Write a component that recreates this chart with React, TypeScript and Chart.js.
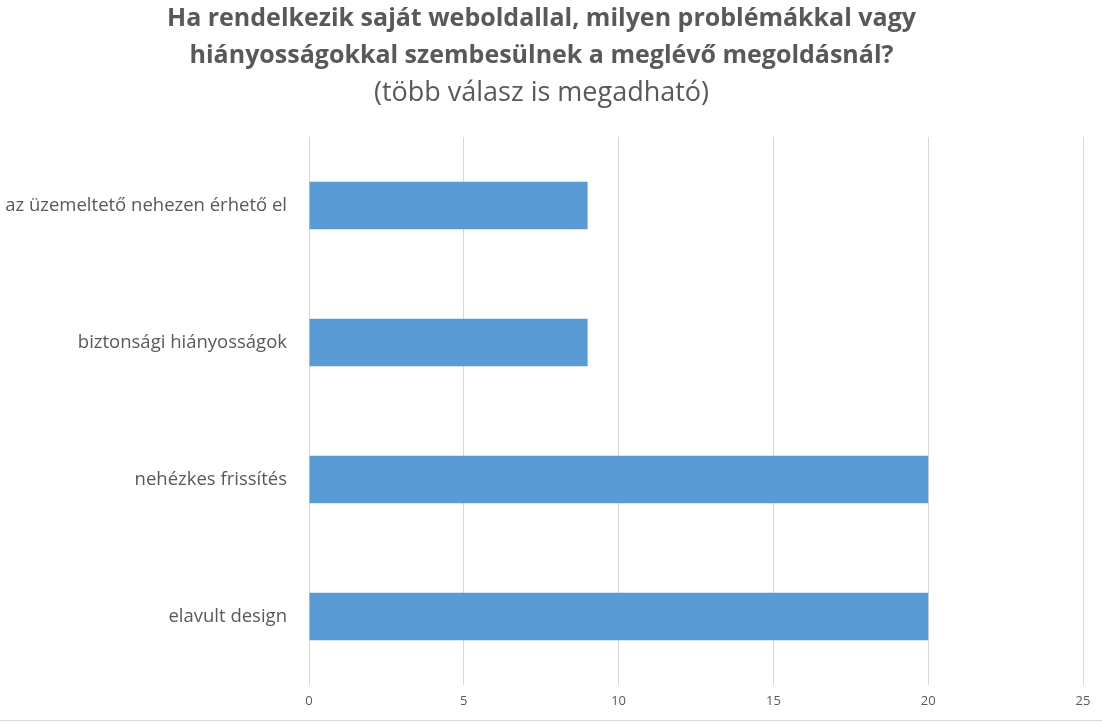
import { useEffect, useRef } from 'react';
import Chart from 'chart.js/auto';

const titleLines = [
  'Ha rendelkezik saját weboldallal, milyen problémákkal vagy',
  'hiányosságokkal szembesülnek a meglévő megoldásnál?',
];
const subtitleText = '(több válasz is megadható)';

const categories = [
  'az üzemeltető nehezen érhető el',
  'biztonsági hiányosságok',
  'nehézkes frissítés',
  'elavult design',
];
const answers = [9, 9, 20, 20];

const textColor = '#595959';
const gridColor = '#d9d9d9';

const App = () => {
  const canvasRef = useRef<HTMLCanvasElement>(null);
  const chartRef = useRef<Chart | null>(null);

  useEffect(() => {
    const ctx = canvasRef.current?.getContext('2d');
    if (!ctx) return;

    chartRef.current?.destroy();
    chartRef.current = new Chart(ctx, {
      type: 'bar',
      data: {
        labels: categories,
        datasets: [
          {
            data: answers,
            backgroundColor: '#5b9bd5',
            categoryPercentage: 1,
            barPercentage: 0.345,
          },
        ],
      },
      options: {
        indexAxis: 'y',
        animation: false,
        responsive: false,
        layout: { padding: { left: 0, right: 19, top: 0, bottom: 0 } },
        plugins: {
          legend: { display: false },
          tooltip: { enabled: false },
          title: {
            display: true,
            text: titleLines,
            color: textColor,
            font: { family: 'Open Sans', size: 25, weight: 'bold', lineHeight: 37 / 25 },
            padding: { top: 0, bottom: 0 },
          },
          subtitle: {
            display: true,
            text: subtitleText,
            color: textColor,
            font: { family: 'Open Sans', size: 27, weight: 'normal', lineHeight: 37 / 27 },
            padding: { top: 1, bottom: 25 },
          },
        },
        scales: {
          x: {
            min: 0,
            max: 25,
            ticks: {
              stepSize: 5,
              color: textColor,
              padding: 8,
              font: { family: 'Open Sans', size: 13 },
            },
            grid: { color: gridColor, drawTicks: false },
            border: { display: false },
            afterFit: (scale) => {
              scale.height = 35;
            },
          },
          y: {
            ticks: {
              color: textColor,
              padding: 14,
              font: { family: 'Open Sans', size: 18.5 },
            },
            grid: { display: false },
            border: { display: false },
            afterFit: (scale) => {
              scale.width = 309;
            },
          },
        },
      },
    });

    return () => {
      chartRef.current?.destroy();
      chartRef.current = null;
    };
  }, []);

  return (
    <div
      style={{
        position: 'fixed',
        left: 0,
        top: 0,
        width: 1102,
        height: 726,
        background: '#fff',
      }}
    >
      <canvas ref={canvasRef} width={1102} height={720} style={{ display: 'block' }} />
      <div
        style={{
          position: 'absolute',
          left: 0,
          top: 720,
          width: 1102,
          height: 0,
          borderTop: `1px solid ${gridColor}`,
        }}
      />
    </div>
  );
};

export default App;
